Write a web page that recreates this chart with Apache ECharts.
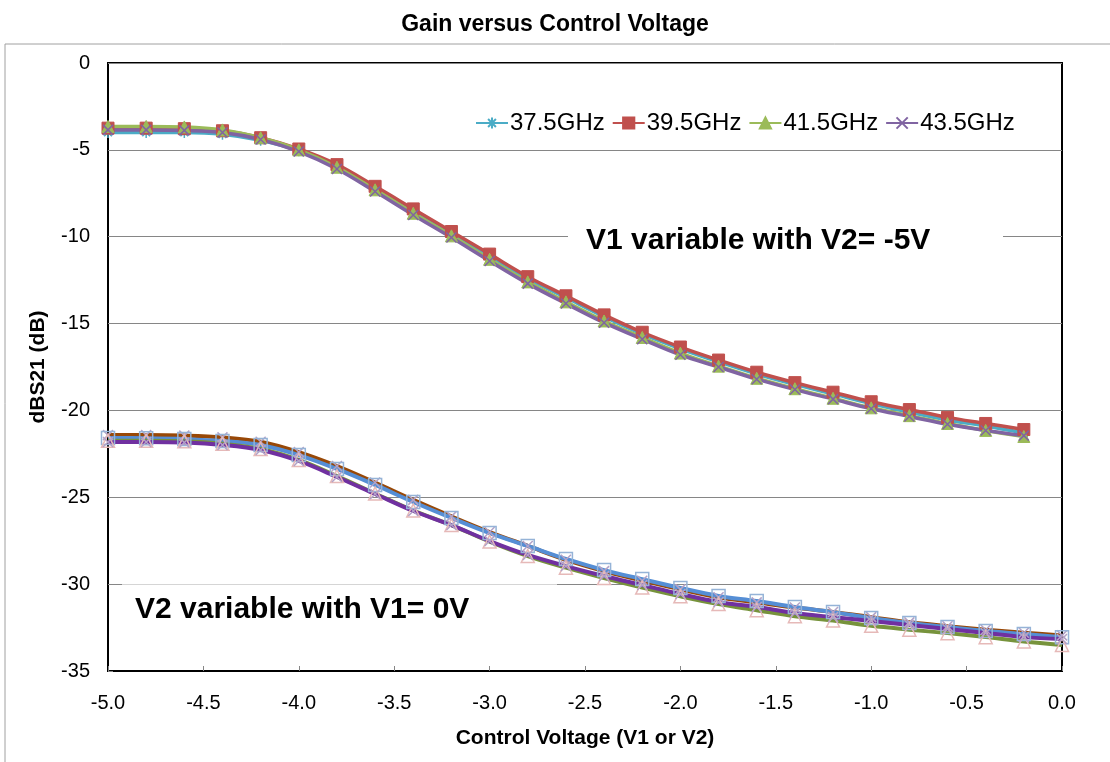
<!DOCTYPE html>
<html>
<head>
<meta charset="utf-8">
<script src="https://cdn.jsdelivr.net/npm/echarts@6/dist/echarts.min.js"></script>
<style>
html,body{margin:0;padding:0;background:#fff;}
#chart{width:1110px;height:762px;}
</style>
</head>
<body>
<div id="chart"></div>
<script>
// ---- data ----
var xUpper = [-5.0,-4.8,-4.6,-4.4,-4.2,-4.0,-3.8,-3.6,-3.4,-3.2,-3.0,-2.8,-2.6,-2.4,-2.2,-2.0,-1.8,-1.6,-1.4,-1.2,-1.0,-0.8,-0.6,-0.4,-0.2];
var xLower = [-5.0,-4.8,-4.6,-4.4,-4.2,-4.0,-3.8,-3.6,-3.4,-3.2,-3.0,-2.8,-2.6,-2.4,-2.2,-2.0,-1.8,-1.6,-1.4,-1.2,-1.0,-0.8,-0.6,-0.4,-0.2,0.0];

var seriesNames = ['37.5GHz','39.5GHz','41.5GHz','43.5GHz'];

// V1 variable with V2 = -5V
var v1_37 = [-4.0,-4.0,-4.0,-4.1,-4.45,-5.05,-5.95,-7.2,-8.5,-9.8,-11.1,-12.4,-13.5,-14.6,-15.6,-16.45,-17.2,-17.9,-18.5,-19.05,-19.6,-20.1,-20.55,-20.9,-21.3];
var v1_39 = [-3.75,-3.75,-3.78,-3.9,-4.3,-4.95,-5.85,-7.1,-8.4,-9.7,-11.0,-12.3,-13.4,-14.5,-15.5,-16.35,-17.1,-17.8,-18.4,-18.95,-19.5,-19.95,-20.4,-20.75,-21.1];
var v1_41 = [-3.65,-3.65,-3.68,-3.85,-4.3,-5.0,-6.0,-7.3,-8.65,-9.95,-11.3,-12.6,-13.75,-14.85,-15.8,-16.7,-17.45,-18.15,-18.75,-19.3,-19.85,-20.3,-20.75,-21.15,-21.5];
var v1_43 = [-3.85,-3.85,-3.88,-4.0,-4.4,-5.1,-6.1,-7.4,-8.75,-10.05,-11.4,-12.7,-13.85,-14.95,-15.9,-16.8,-17.5,-18.2,-18.8,-19.35,-19.9,-20.35,-20.8,-21.15,-21.45];

// V2 variable with V1 = 0V
var v2_37 = [-21.42,-21.42,-21.45,-21.55,-21.8,-22.4,-23.2,-24.15,-25.15,-26.1,-27.0,-27.8,-28.6,-29.25,-29.8,-30.3,-30.75,-31.05,-31.35,-31.6,-31.9,-32.2,-32.42,-32.62,-32.8,-32.95];
var v2_39 = [-21.59,-21.6,-21.65,-21.76,-21.99,-22.57,-23.37,-24.29,-25.27,-26.19,-27.06,-27.8,-28.55,-29.19,-29.71,-30.22,-30.68,-30.97,-31.32,-31.61,-31.95,-32.24,-32.47,-32.70,-32.87,-33.05];
var v2_41 = [-21.75,-21.75,-21.78,-21.92,-22.22,-22.85,-23.78,-24.78,-25.76,-26.6,-27.55,-28.38,-29.05,-29.65,-30.2,-30.7,-31.15,-31.5,-31.85,-32.1,-32.4,-32.62,-32.82,-33.05,-33.3,-33.5];
var v2_43 = [-21.82,-21.82,-21.85,-21.99,-22.28,-22.91,-23.83,-24.81,-25.79,-26.6,-27.52,-28.32,-28.96,-29.53,-30.05,-30.57,-31.03,-31.32,-31.66,-31.9,-32.12,-32.35,-32.58,-32.81,-33.05,-33.16];

var titleText = 'Gain versus Control Voltage';
var xTitle = 'Control Voltage (V1 or V2)';
var yTitle = 'dBS21 (dB)';
var note1 = 'V1 variable with V2= -5V';
var note2 = 'V2 variable with V1= 0V';

// ---- build ----
function pairs(xs, ys){ return xs.map(function(x,i){ return [x, ys[i]]; }); }
var FONT = '"Liberation Sans", Arial, sans-serif';
var ASTER = 'path://M0,5L10,5M5,0L5,10M1.5,1.5L8.5,8.5M1.5,8.5L8.5,1.5';
var XMARK = 'path://M0,0L10,10M0,10L10,0';

function upper(name, ys, color, symbol, size, filled){
  return {
    name: name, type: 'line', data: pairs(xUpper, ys), smooth: 0.35,
    symbol: symbol, symbolSize: size, showSymbol: true,
    lineStyle: {color: color, width: 3.5},
    itemStyle: filled ? {color: color, borderColor: color, borderWidth: 1}
                      : {color: 'rgba(0,0,0,0)', borderColor: color, borderWidth: 1.5},
    z: 3
  };
}
function lower(name, ys, color, symbol, size, mcolor){
  return {
    name: name, type: 'line', data: pairs(xLower, ys), smooth: 0.35,
    symbol: symbol, symbolSize: size, showSymbol: symbol !== 'none',
    lineStyle: {color: color, width: 4},
    itemStyle: {color: 'rgba(0,0,0,0)', borderColor: mcolor, borderWidth: 1.5},
    z: 3
  };
}

var chart = echarts.init(document.getElementById('chart'));
chart.setOption({
  animation: false,
  backgroundColor: '#fff',
  textStyle: {fontFamily: FONT},
  title: {
    text: titleText, left: 'center', top: 8,
    textStyle: {fontFamily: FONT, fontSize: 23, fontWeight: 'bold', color: '#000'}
  },
  legend: {
    data: seriesNames, left: 470, top: 106, itemWidth: 32, itemHeight: 14, itemGap: 7,
    textStyle: {fontFamily: FONT, fontSize: 24, color: '#000', padding: [0, 0, 0, -3]}
  },
  grid: {left: 108, right: 48, top: 63, bottom: 91, show: true, borderColor: '#000', borderWidth: 2, backgroundColor: 'transparent'},
  xAxis: {
    type: 'value', min: -5, max: 0, interval: 0.5,
    name: xTitle, nameLocation: 'middle', nameGap: 57,
    nameTextStyle: {fontFamily: FONT, fontSize: 21, fontWeight: 'bold', color: '#000'},
    axisLine: {show: true, onZero: false, lineStyle: {color: '#000', width: 2}},
    axisTick: {show: true, inside: true, length: 5, lineStyle: {color: '#868686'}},
    axisLabel: {fontFamily: FONT, fontSize: 20, color: '#000', margin: 22, formatter: function(v){ return v.toFixed(1); }},
    splitLine: {show: false}
  },
  yAxis: {
    type: 'value', min: -35, max: 0, interval: 5,
    name: yTitle, nameLocation: 'middle', nameGap: 59, nameRotate: 90,
    nameTextStyle: {fontFamily: FONT, fontSize: 21, fontWeight: 'bold', color: '#000'},
    axisLine: {show: true, onZero: false, lineStyle: {color: '#000', width: 2}},
    axisTick: {show: true, inside: true, length: 5, lineStyle: {color: '#868686'}},
    axisLabel: {fontFamily: FONT, fontSize: 20, color: '#000', margin: 18},
    splitLine: {show: true, lineStyle: {color: '#868686', width: 1}}
  },
  graphic: [
    {type: 'rect', z: -10, silent: true, shape: {x: 5, y: 44, width: 1200, height: 800}, style: {fill: 'none', stroke: '#a0a0a0', lineWidth: 1}},
    {type: 'rect', z: 1, silent: true, shape: {x: 568, y: 216, width: 435, height: 48}, style: {fill: '#fff'}},
    {type: 'text', z: 2, silent: true, left: 586, top: 226, style: {text: note1, font: 'bold 30px ' + FONT, fill: '#000'}},
    {type: 'rect', z: 1, silent: true, shape: {x: 122, y: 575, width: 435, height: 66}, style: {fill: 'rgba(255,255,255,0.65)'}},
    {type: 'text', z: 2, silent: true, left: 135, top: 595, style: {text: note2, font: 'bold 30px ' + FONT, fill: '#000'}}
  ],
  series: [
    upper('37.5GHz', v1_37, '#4BACC6', ASTER, 11, false),
    upper('39.5GHz', v1_39, '#C0504D', 'rect', 12, true),
    upper('41.5GHz', v1_41, '#9BBB59', 'triangle', 12, true),
    upper('43.5GHz', v1_43, '#8064A2', XMARK, 10, false),
    lower('37.5GHz V2', v2_37, '#984807', XMARK, 10, '#B3A2C7'),
    lower('39.5GHz V2', v2_39, '#558ED5', 'rect', 13, '#95B3D7'),
    lower('41.5GHz V2', v2_41, '#77933C', 'triangle', 13, '#E6B9B8'),
    lower('43.5GHz V2', v2_43, '#7030A0', XMARK, 10, '#B3A2C7')
  ]
});
</script>
</body>
</html>
